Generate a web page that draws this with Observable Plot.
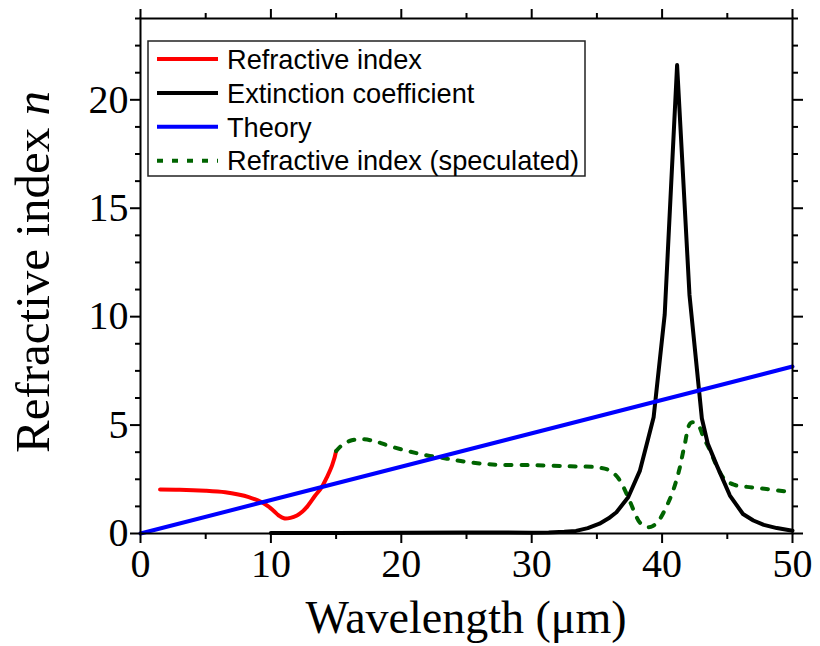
<!DOCTYPE html>
<html><head><meta charset="utf-8">
<script src="https://cdn.jsdelivr.net/npm/d3@7"></script>
<script src="https://cdn.jsdelivr.net/npm/@observablehq/plot@0.6"></script>
<style>body{margin:0;background:#fff}#chart{position:relative;width:820px;height:646px}</style>
</head><body><div id="chart"></div>
<script>
// Refractive index (measured)
const refrX = [1.5, 3, 5, 6.5, 7.5, 8.3, 9.3, 9.8, 10.2, 10.6, 11.0, 11.5, 12.0, 12.4, 12.8, 13.4, 13.9, 14.3, 14.7, 15.0];
const refrY = [2.03, 2.02, 1.97, 1.9, 1.8, 1.68, 1.44, 1.25, 1.05, 0.83, 0.7, 0.72, 0.83, 1.0, 1.25, 1.75, 2.14, 2.6, 3.15, 3.8];
// Extinction coefficient
const extX = [10, 15, 20, 25, 30, 31.3, 32.5, 33.4, 34.3, 35.2, 35.9, 36.5, 37.4, 38.3, 38.9, 39.35, 40.2, 41.15, 42.1, 43.05, 43.5, 44.2, 45.2, 46.2, 47.0, 47.8, 48.8, 50.0];
const extY = [0.02, 0.02, 0.03, 0.05, 0.04, 0.05, 0.08, 0.12, 0.25, 0.45, 0.7, 0.98, 1.67, 2.9, 4.3, 5.36, 10.1, 21.6, 11.0, 5.3, 4.15, 3.13, 1.75, 0.9, 0.6, 0.4, 0.25, 0.13];
// Theory
const theoryX = [0, 50];
const theoryY = [0, 7.7];
// Refractive index (speculated)
const specX = [15.0, 15.5, 16.2, 17.0, 18.0, 19.0, 20.5, 22.0, 23.5, 25.0, 27.0, 30.0, 33.0, 35.0, 36.0, 36.7, 37.3, 37.8, 38.3, 38.8, 39.3, 39.8, 40.3, 40.8, 41.3, 41.7, 42.2, 42.7, 43.2, 43.7, 44.2, 44.8, 45.5, 46.5, 48.0, 50.0];
const specY = [3.8, 4.1, 4.3, 4.35, 4.25, 4.05, 3.8, 3.6, 3.45, 3.3, 3.18, 3.15, 3.1, 3.05, 2.9, 2.5, 1.8, 1.1, 0.5, 0.3, 0.35, 0.65, 1.2, 1.9, 2.9, 4.0, 5.1, 5.05, 4.4, 3.8, 3.1, 2.5, 2.25, 2.15, 2.05, 1.9];

const xMajor = [0, 10, 20, 30, 40, 50];
const xMinor = [5, 15, 25, 35, 45];
const yMajor = [0, 5, 10, 15, 20];
const yMinor = [1.25, 2.5, 3.75, 6.25, 7.5, 8.75, 11.25, 12.5, 13.75, 16.25, 17.5, 18.75, 21.25, 22.5, 23.75];

const seriesNames = ["Refractive index", "Extinction coefficient", "Theory", "Refractive index (speculated)"];
const seriesColors = ["#ff0000", "#000000", "#0000ff", "#006400"];
const xTitle = "Wavelength (\u03bcm)";
const yTitle = "Refractive index ";
const yTitleItalic = "n";

const rows = (xs, ys) => xs.map((x, i) => ({x, y: ys[i]}));
const serif = "'Liberation Serif', 'Times New Roman', serif";
const sans = "'Liberation Sans', Arial, sans-serif";
const blank = () => "";

const plot = Plot.plot({
  width: 820, height: 646,
  marginLeft: 140, marginRight: 28, marginTop: 18, marginBottom: 113,
  x: {domain: [0, 50]},
  y: {domain: [0, 23.75]},
  style: {fontFamily: serif, fontSize: "40px", color: "#000", background: "#fff", overflow: "visible"},
  marks: [
    Plot.line(rows(refrX, refrY), {x: "x", y: "y", stroke: seriesColors[0], strokeWidth: 4, curve: "catmull-rom"}),
    Plot.line(rows(specX, specY), {x: "x", y: "y", stroke: seriesColors[3], strokeWidth: 4, strokeDasharray: "6,10", curve: "catmull-rom"}),
    Plot.line(rows(extX, extY), {x: "x", y: "y", stroke: seriesColors[1], strokeWidth: 4}),
    Plot.line(rows(theoryX, theoryY), {x: "x", y: "y", stroke: seriesColors[2], strokeWidth: 4}),
    Plot.frame({stroke: "#000", strokeWidth: 2}),
    Plot.axisX({ticks: xMajor, tickSize: 10, tickPadding: 5, strokeWidth: 2, label: null, fontSize: 40, tickFormat: d => String(d)}),
    Plot.axisX({ticks: xMinor, tickSize: 6, strokeWidth: 2, label: null, tickFormat: blank}),
    Plot.axisX({anchor: "top", ticks: xMajor, tickSize: 10, strokeWidth: 2, label: null, tickFormat: blank}),
    Plot.axisX({anchor: "top", ticks: xMinor, tickSize: 6, strokeWidth: 2, label: null, tickFormat: blank}),
    Plot.axisY({ticks: yMajor, tickSize: 10, tickPadding: 2, strokeWidth: 2, label: null, fontSize: 40, tickFormat: d => String(d)}),
    Plot.axisY({ticks: yMinor, tickSize: 5, strokeWidth: 2, label: null, tickFormat: blank}),
    Plot.axisY({anchor: "right", ticks: yMajor, tickSize: 10, strokeWidth: 2, label: null, tickFormat: blank}),
    Plot.axisY({anchor: "right", ticks: yMinor, tickSize: 5, strokeWidth: 2, label: null, tickFormat: blank})
  ]
});
document.getElementById("chart").appendChild(plot);

const svg = d3.select(plot);
// axis titles
svg.append("text")
  .attr("x", 466).attr("y", 633)
  .attr("text-anchor", "middle")
  .attr("font-family", serif).attr("font-size", 46).attr("fill", "#000")
  .text(xTitle);
const yt = svg.append("text")
  .attr("transform", "translate(49,272) rotate(-90)")
  .attr("text-anchor", "middle")
  .attr("font-family", serif).attr("font-size", 49).attr("fill", "#000");
yt.append("tspan").text(yTitle);
yt.append("tspan").attr("font-style", "italic").text(yTitleItalic);

// legend
const lg = svg.append("g");
lg.append("rect").attr("x", 148).attr("y", 41).attr("width", 437).attr("height", 135)
  .attr("fill", "#fff").attr("stroke", "#222").attr("stroke-width", 1.5);
seriesNames.forEach((name, i) => {
  const cy = 59 + i * 33.9;
  lg.append("line").attr("x1", 157).attr("x2", 218).attr("y1", cy).attr("y2", cy)
    .attr("stroke", seriesColors[i]).attr("stroke-width", 4)
    .attr("stroke-dasharray", i === 3 ? "6,9" : null);
  lg.append("text").attr("x", 227).attr("y", cy).attr("dy", "0.36em")
    .attr("text-anchor", "start")
    .attr("font-family", sans).attr("font-size", 27.2).attr("fill", "#000")
    .text(name);
});
</script>
</body></html>
